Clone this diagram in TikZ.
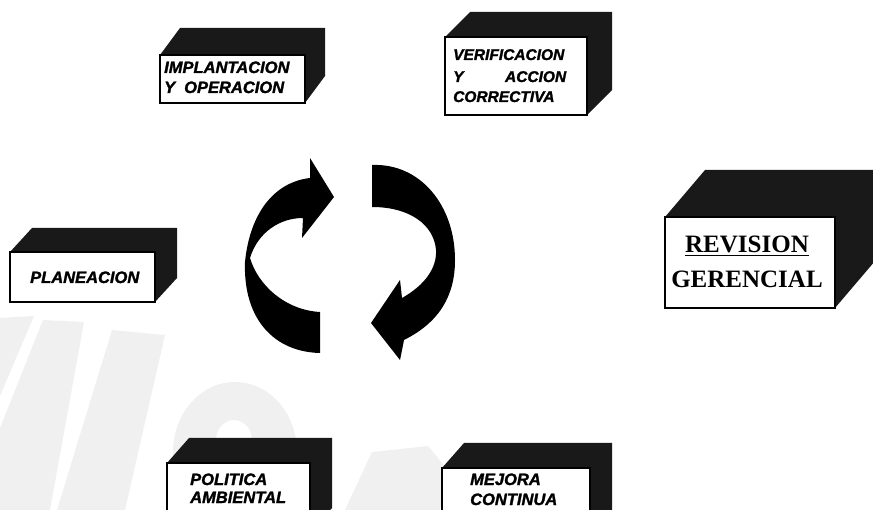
\documentclass[tikz,border=0pt]{standalone}
\usepackage{fontspec}
\setmainfont{Liberation Sans}[BoldItalicFeatures={FakeBold=1.6}]
\newfontfamily\titlefont{Liberation Serif}
% solid box: name, front x, front y, width, height, depth x, depth y
\newcommand\solidbox[7]{%
  \fill[boxshade] (#2,#3) -- ++(#6,-#7) -- ++(#4,0) -- ++(0,#5) -- ++(-#6,#7) -- ++(0,-#5) -- cycle;
  \node[face,minimum width=#4pt,minimum height=#5pt] (#1) at (#2,#3) {};
}
\begin{document}
\begin{tikzpicture}[x=1pt,y=-1pt,
  face/.style={draw=black,line width=1.4pt,fill=white,inner sep=0pt,outer sep=0pt,anchor=north west},
  boxshade/.style={fill=black!90},
  lbl/.style={anchor=base west,inner sep=0pt,font=\fontsize{16.5}{18}\selectfont\bfseries\itshape},
  smalllbl/.style={lbl,font=\fontsize{15.5}{18}\selectfont\bfseries\itshape},
  title/.style={anchor=base,inner sep=0pt,font=\fontsize{25}{30}\selectfont\titlefont\bfseries},
  faint/.style={fill=black!6},
  cyclearrow/.style={fill=black}
]
\useasboundingbox (0,0) rectangle (873,510);
\clip (0,0) rectangle (873,510);

% faint background logo
\fill[faint] (0,318) -- (34,316) -- (0,396) -- cycle;
\fill[faint] (43,320) -- (84,322) -- (50,510) -- (0,510) -- (0,428) -- cycle;
\fill[faint] (112,330) -- (165,335) -- (125,510) -- (57,510) -- cycle;
\fill[faint,even odd rule] (235,452) ellipse [x radius=62, y radius=70]
  (234,440) ellipse [x radius=18, y radius=20];
\fill[faint] (345,510) -- (372,452) -- (428,446) -- (448,470) -- (440,510) -- cycle;

% cycle arrows
\fill[cyclearrow] (320,312) -- (320,353)
  .. controls (275,352) and (243,320) .. (245,262)
  .. controls (250,212) and (275,182) .. (310,178)
  -- (310,158) -- (334,197) -- (302,238) -- (303,218)
  .. controls (280,218) and (258,232) .. (250,258)
  .. controls (258,285) and (285,310) .. (320,312) -- cycle;
\fill[cyclearrow] (372,165)
  .. controls (420,163) and (455,205) .. (455,260)
  .. controls (455,295) and (440,322) .. (404,340)
  -- (400,360) -- (371,323) -- (400,280) -- (402,298)
  .. controls (425,285) and (437,268) .. (436,250)
  .. controls (434,225) and (410,207) .. (372,207) -- cycle;

% boxes
\solidbox{impl}{160}{55}{145}{48}{20}{27}
\solidbox{verif}{445}{37}{142}{78}{25}{25}
\solidbox{plan}{10}{252}{145}{50}{22}{24}
\solidbox{rev}{665}{217}{170}{91}{40}{47}
\solidbox{polit}{167}{463}{143}{70}{22}{25}
\solidbox{mejora}{442}{468}{148}{70}{22}{25}

% labels
\node[lbl] (impl-a) at (164,73) {IMPLANTACION};
\node[lbl] (impl-b) at (164,93) {Y\hspace{9pt}OPERACION};

\node[smalllbl] (verif-a) at (453,60) {VERIFICACION};
\node[smalllbl] (verif-b) at (453,82) {\makebox[113pt][s]{Y\hfill ACCION}};
\node[smalllbl] (verif-c) at (453,102) {CORRECTIVA};

\node[lbl] (plan-a) at (30,283) {PLANEACION};

\node[title] (rev-a) at (747,253) {\underline{REVISION}};
\node[title] (rev-b) at (747,288) {GERENCIAL};

\node[lbl] (polit-a) at (190,485) {POLITICA};
\node[lbl] (polit-b) at (190,503) {AMBIENTAL};

\node[lbl] (mejora-a) at (470,485) {MEJORA};
\node[lbl] (mejora-b) at (470,505) {CONTINUA};
\end{tikzpicture}
\end{document}
